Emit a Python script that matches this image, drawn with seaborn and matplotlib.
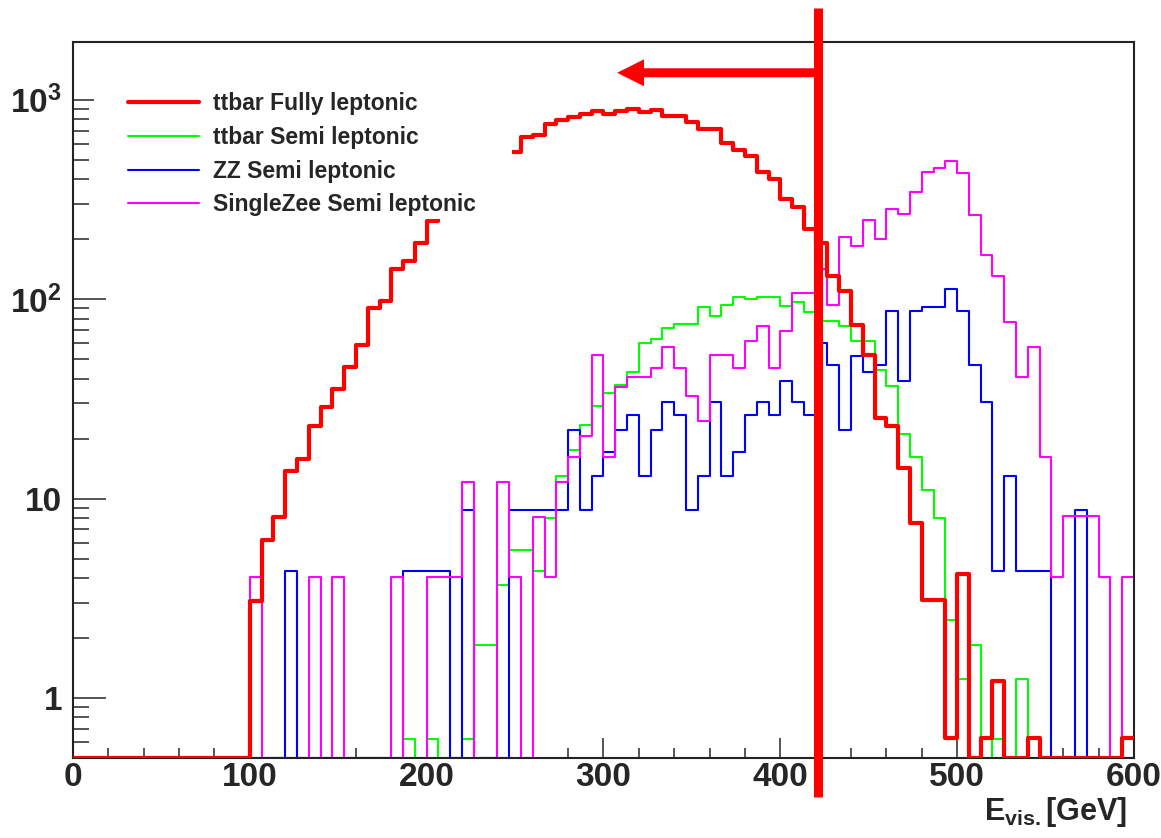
import numpy as np
import pandas as pd
import matplotlib
matplotlib.use("Agg")
import matplotlib.pyplot as plt
import seaborn as sns
from matplotlib.lines import Line2D
from matplotlib.patches import Rectangle, ArrowStyle
from matplotlib.ticker import FixedLocator, FixedFormatter, LogLocator, MultipleLocator, NullFormatter

# --- DATA (90 bins of 6.67 GeV from 0 to 600) ---
X_MIN, X_MAX, N_BINS = 0, 600, 90

ttbar_fully = [
    0, 0, 0, 0, 0, 0, 0, 0, 0, 0, 0, 0, 0, 0, 0,
    3.05, 6.2, 8.1, 13.7, 15.8, 23.2, 28.7, 35.5, 45.5, 59, 90, 98, 141, 155, 192,
    246, 276, 309, 346, 388, 434, 487, 545, 651, 666, 755, 794, 816, 848, 874,
    848, 874, 902, 870, 888, 826, 826, 770, 713, 713, 607, 558, 521, 435, 401,
    319, 289, 226, 192, 131, 110, 74, 52.5, 25.5, 23, 14.3, 7.5, 3.1, 3.1, 0.63,
    4.2, 0, 0.63, 1.22, 0, 0, 0.63, 0, 0, 0, 0, 0, 0, 0, 0.63,
]

ttbar_semi = [
    0, 0, 0, 0, 0, 0, 0, 0, 0, 0, 0, 0, 0, 0, 0,
    0, 0, 0, 0, 0, 0, 0, 0, 0, 0, 0, 0, 0, 0.62, 0,
    0.62, 0, 0, 0.62, 1.85, 1.85, 3.7, 5.5, 5.5, 4.35, 8.0, 13, 17.6, 23.5, 29,
    34, 37, 43, 60, 63, 72, 75, 75, 91, 82, 93, 102, 100, 102, 102,
    92, 97, 86, 78, 78, 73.5, 61.6, 61.6, 44, 36.6, 21, 16.2, 11.1, 8.0, 2.45,
    1.24, 1.85, 0, 0.62, 0, 1.24, 0, 0, 0, 0, 0, 0, 0, 0, 0,
]

zz_semi = [
    0, 0, 0, 0, 0, 0, 0, 0, 0, 0, 0, 0, 0, 0, 0,
    0, 0, 0, 4.35, 0, 0, 0, 0, 0, 0, 0, 0, 0, 4.35, 4.35,
    4.35, 4.35, 0, 8.8, 0, 0, 0, 8.8, 8.8, 8.8, 8.8, 8.8, 22, 8.8, 13,
    17.2, 22, 26.3, 13, 22, 30.4, 26.3, 8.8, 13, 30.4, 13, 17.2, 26.3, 30.4, 26.3,
    38.8, 30.4, 26.3, 60, 47, 22, 51.7, 43, 47, 87, 38.8, 87, 91, 91, 113,
    87, 47, 30.4, 4.35, 13, 4.35, 4.35, 4.35, 0, 0, 8.8, 0, 0, 0, 0,
]

singlezee_semi = [
    0, 0, 0, 0, 0, 0, 0, 0, 0, 0, 0, 0, 0, 0, 0,
    4.06, 0, 0, 0, 0, 4.06, 0, 4.06, 0, 0, 0, 0, 4.06, 0, 0,
    4.06, 4.06, 4.06, 12.1, 0, 0, 12.1, 4.06, 0, 8.1, 4.06, 12.1, 16.2, 20.5, 52.6,
    16.2, 36.2, 40.6, 40.6, 45, 57.3, 45, 32.6, 24.4, 52.6, 52.6, 45, 61.6, 73.5, 45,
    69, 107, 107, 142, 93, 206, 185, 251, 201, 285, 269, 344, 435, 455, 495,
    427, 263, 166, 131, 77, 40.6, 57.7, 16.2, 4.06, 8.2, 8.2, 8.2, 4.06, 0, 4.06,
]

labels = ["ttbar Fully leptonic", "ttbar Semi leptonic", "ZZ Semi leptonic", "SingleZee Semi leptonic"]
colors = ["#ff0000", "#00ff00", "#0000ff", "#ff00ff"]
widths = [3.0, 1.5, 1.5, 1.5]

CUT_VALUE = 421.4      # GeV, position of the cut line
ARROW_TIP = 307.7      # GeV
Y_MIN, Y_MAX = 0.5, 1950

# --- STYLE ---
sns.set_style("white")
plt.rcParams["font.family"] = ["Liberation Sans", "DejaVu Sans"]
plt.rcParams["font.weight"] = "bold"
plt.rcParams["mathtext.fontset"] = "custom"
plt.rcParams["mathtext.bf"] = "Liberation Sans:bold"
plt.rcParams["mathtext.rm"] = "Liberation Sans:bold"

fig = plt.figure(figsize=(11.61, 8.38), dpi=100)
ax = fig.add_axes([0.0629, 0.0955, 0.9138, 0.8544])

bin_w = (X_MAX - X_MIN) / N_BINS
centers = X_MIN + bin_w * (np.arange(N_BINS) + 0.5)

series = [ttbar_fully, ttbar_semi, zz_semi, singlezee_semi]
# draw order: semi leptonic ones first, fully leptonic (thick red) on top
for idx in [1, 2, 3, 0]:
    df = pd.DataFrame({
        "E": centers,
        # empty bins sit on the frame, like ROOT draws them
        "w": np.clip(np.asarray(series[idx], dtype=float), Y_MIN, None),
    })
    sns.histplot(data=df, x="E", weights="w", bins=N_BINS, binrange=(X_MIN, X_MAX),
                 element="step", fill=False, color=colors[idx], linewidth=widths[idx],
                 ax=ax, zorder=3 if idx == 0 else 2)

ax.set_yscale("log")
ax.set_xlim(X_MIN, X_MAX)
ax.set_ylim(Y_MIN, Y_MAX)
ax.set_ylabel("")

# ticks (ROOT style, inside)
ax.xaxis.set_major_locator(MultipleLocator(100))
ax.xaxis.set_minor_locator(MultipleLocator(20))
ax.yaxis.set_major_locator(FixedLocator([1, 10, 100, 1000]))
ax.yaxis.set_major_formatter(FixedFormatter(["1", "10", r"$\mathbf{10^{2}}$", r"$\mathbf{10^{3}}$"]))
ax.yaxis.set_minor_locator(LogLocator(base=10, subs=np.arange(2, 10)))
ax.yaxis.set_minor_formatter(NullFormatter())
ax.tick_params(axis="x", which="major", direction="in", length=14.5, width=1.1, labelsize=24, pad=3,
               top=False, bottom=True)
ax.tick_params(axis="x", which="minor", direction="in", length=7, width=1.1, top=False, bottom=True)
ax.tick_params(axis="y", which="major", direction="in", length=24, width=1.1, labelsize=24, pad=8,
               left=True, right=False)
ax.tick_params(axis="y", which="minor", direction="in", length=11.5, width=1.1, left=True, right=False)
for lab in ax.get_xticklabels() + ax.get_yticklabels():
    lab.set_fontweight("bold")

for side in ["left", "bottom", "top", "right"]:
    ax.spines[side].set_visible(True)
    ax.spines[side].set_linewidth(1.5)
    ax.spines[side].set_color("#222222")

ax.set_xlabel(r"$\mathbf{E}_{\mathbf{vis.}}$[GeV]", fontsize=22, fontweight="bold")
ax.xaxis.set_label_coords(0.994, -0.052)
ax.xaxis.label.set_horizontalalignment("right")

# legend with opaque white box (covers part of the red curve as in ROOT)
ax.add_patch(Rectangle((0.02, 0.753), 0.3935, 0.215, transform=ax.transAxes,
                       facecolor="white", edgecolor="none", zorder=4))
handles = [Line2D([], [], color=c, lw=w) for c, w in zip(colors, widths)]
leg = ax.legend(handles, labels, loc="upper left", bbox_to_anchor=(0.0518, 0.93),
                frameon=False, fontsize=16.5, handlelength=3.1, handletextpad=0.6,
                labelspacing=0.47, borderaxespad=0, borderpad=0)
leg.set_zorder(5)
for t in leg.get_texts():
    t.set_fontweight("bold")

# cut line + arrow, drawn beyond the frame
trans = ax.get_xaxis_transform()
ax.plot([CUT_VALUE, CUT_VALUE], [-0.055, 1.047], color="red", lw=6.5, transform=trans,
        clip_on=False, zorder=10, solid_capstyle="butt")
ax.annotate("", xy=(ARROW_TIP, 0.957), xycoords=trans, xytext=(CUT_VALUE, 0.957), textcoords=trans,
            arrowprops=dict(arrowstyle=ArrowStyle.Simple(head_length=0.485, head_width=0.485, tail_width=0.162),
                            mutation_scale=40, fc="red", ec="none", shrinkA=0, shrinkB=0),
            annotation_clip=False, zorder=10)

fig.savefig("out.png", dpi=100, facecolor="white")
